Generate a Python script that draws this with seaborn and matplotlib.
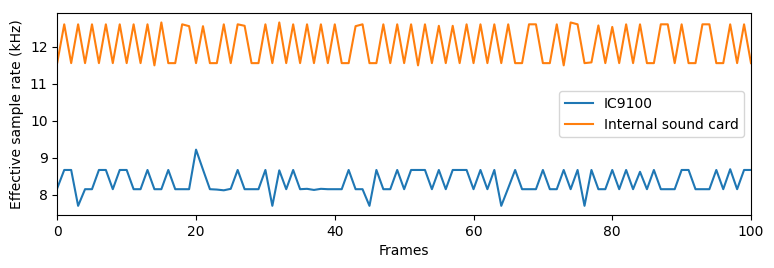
import matplotlib
matplotlib.use("Agg")
import matplotlib.pyplot as plt
import seaborn as sns
import pandas as pd
import numpy as np

# Data (frames 0..100)
frames = list(range(101))

H, L, V = 8.67, 8.15, 7.70
ic9100 = [8.18, H, H, V, L, L, H, H, L, H,
          H, L, L, H, L, L, H, L, L, L,
          9.22, 8.68, L, 8.14, 8.12, 8.16, H, L, L, L,
          H, V, 8.66, L, H, L, 8.16, 8.13, 8.16, L,
          L, L, H, L, L, V, H, L, L, H,
          L, H, H, H, L, H, L, H, H, H,
          L, H, L, H, V, 8.18, H, L, L, L,
          H, L, L, H, L, H, V, H, L, L,
          H, L, H, L, 8.62, L, H, L, L, L,
          H, H, L, L, L, H, L, 8.69, L, H,
          H]

h, l = 12.61, 11.56
internal = [11.58, h, l, h, l, h, l, h, l, h,
            l, h, l, h, 11.50, 12.66, l, l, h, 12.56,
            l, 12.56, l, l, h, l, h, 12.57, l, l,
            h, l, 12.66, l, h, l, h, l, h, l,
            h, l, l, 12.56, h, l, l, h, l, h,
            l, h, 11.50, h, l, 12.57, l, 12.57, l, h,
            l, h, l, h, l, h, l, l, h, h,
            l, l, h, 11.50, 12.66, h, l, 11.58, 12.58, l,
            12.54, l, h, l, h, l, l, h, h, l,
            h, l, l, h, h, l, l, h, l, h,
            l]

series_names = ["IC9100", "Internal sound card"]

df = pd.DataFrame({
    "Frames": frames * 2,
    "rate": ic9100 + internal,
    "series": [series_names[0]] * len(frames) + [series_names[1]] * len(frames),
})

fig = plt.figure(figsize=(7.74, 2.68), dpi=100)
ax = fig.add_axes([57.3 / 774, 1 - 215 / 268, (751 - 57.3) / 774, (215 - 13.3) / 268])

sns.lineplot(data=df, x="Frames", y="rate", hue="series",
             palette=["#1f77b4", "#ff7f0e"], linewidth=1.5, ax=ax,
             estimator=None, sort=False)

ax.set_xlim(0, 100)
ax.set_xlabel("Frames")
ax.set_ylabel("Effective sample rate (kHz)")
ax.legend(loc="center right", title=None)

fig.savefig("out.png", dpi=100)
